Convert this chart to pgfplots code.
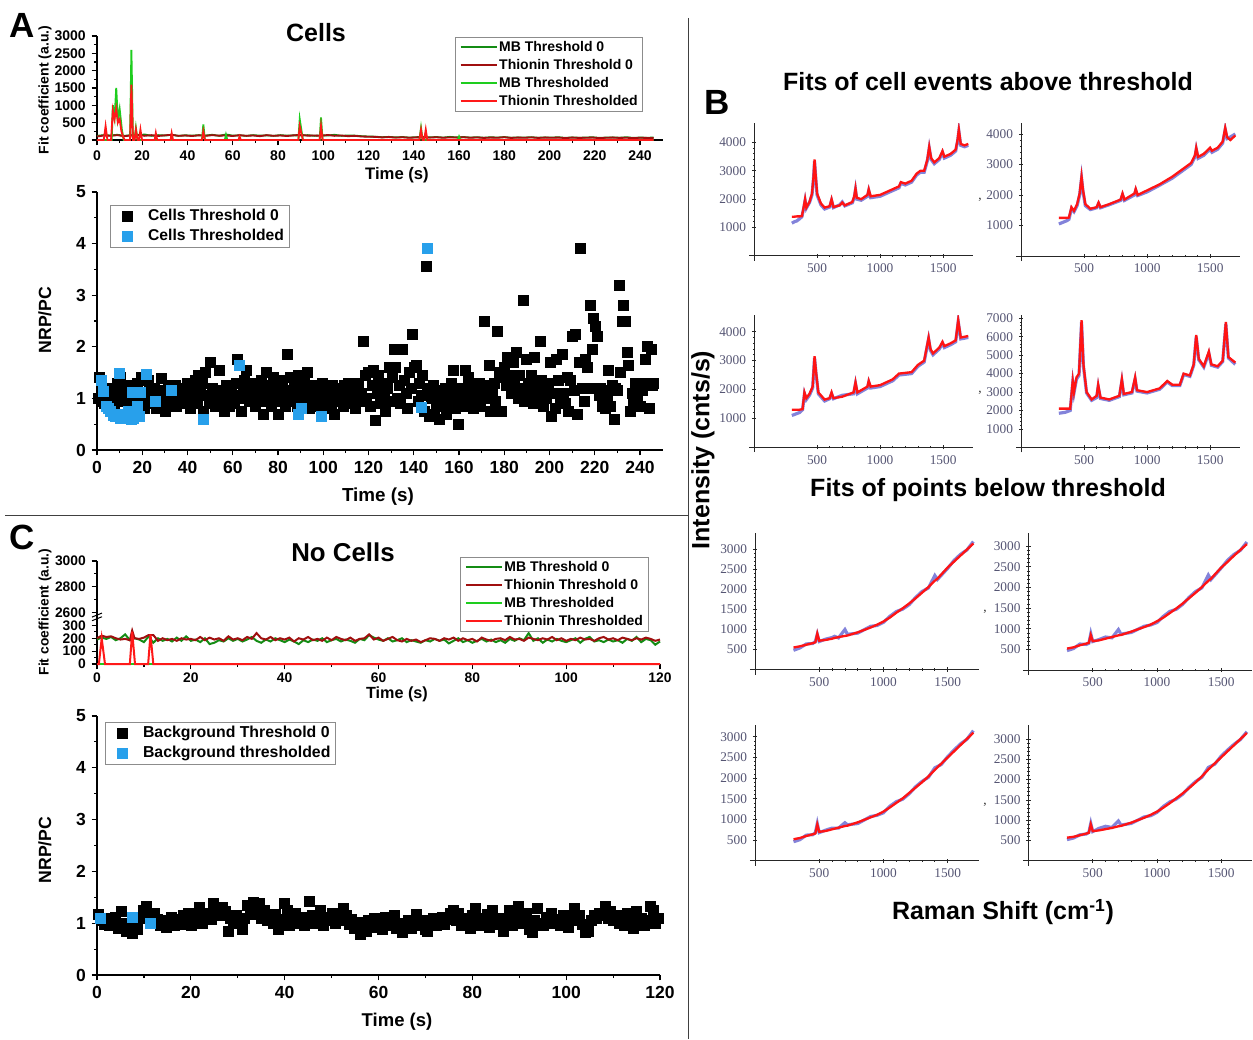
\documentclass[border=0pt]{standalone}
\usepackage{fontspec}
\setmainfont{Liberation Sans}
\newfontfamily\ser{Liberation Serif}
\usepackage{pgfplots}
\pgfplotsset{compat=1.18}
\usepackage{pgfplotstable}

\definecolor{dkgreen}{RGB}{20,140,20}
\definecolor{brgreen}{RGB}{30,205,30}
\definecolor{dkred}{RGB}{160,15,15}
\definecolor{brred}{RGB}{255,25,25}
\definecolor{cellblue}{RGB}{40,160,235}
\definecolor{mmagray}{RGB}{85,85,115}
\definecolor{mmablue}{RGB}{90,90,205}
\definecolor{mmared}{RGB}{255,20,20}

\newcommand\fsz[1]{\fontsize{#1}{#1}\selectfont}

\pgfplotsset{
  orig/.style={
    scale only axis, anchor=south west,
    axis x line*=bottom, axis y line*=left,
    axis line style={line width=0.9pt},
    tick style={black, line width=0.7pt},
    tick align=outside,
    major tick length=3.2pt, minor tick length=1.8pt,
    /pgf/number format/assume math mode=true,
    /pgf/number format/1000 sep={},
    legend cell align=left,
    legend style={draw=black!45, line width=0.6pt, fill=white,
      inner xsep=2.5pt, inner ysep=0.5pt, anchor=north west},
  },
  sqleg/.style={legend image code/.code={%
    \path[draw=none, fill=none] (0pt,-0.5pt) rectangle (19.5pt,0.5pt);
    \draw[##1] plot coordinates {(7.5pt,0pt)};}},
  mma/.style={
    scale only axis, anchor=south west,
    axis lines=middle,
    axis line style={-, line width=0.55pt, black!85},
    tick style={black!85, line width=0.45pt},
    tick align=center,
    major tick length=2.6pt, minor tick length=1.4pt,
    xmin=-40, xmax=1740, xtick={500,1000,1500},
    minor x tick num=4, minor y tick num=4,
    ticklabel style={font=\ser\fsz{8}, text=mmagray},
    /pgf/number format/assume math mode=true,
    /pgf/number format/1000 sep={},
  },
  dat/.style={mmablue, line width=1.9pt, opacity=0.75},
  fit/.style={mmared, line width=1.4pt},
}

% spectra: x, fit, data
\pgfplotstableread{
x f d
300 1380 1150
320 1380 1200
340 1390 1230
360 1390 1300
380 1400 1380
395 1750 1700
405 2000 1950
415 1700 1680
440 1900 1880
460 2200 2150
472 2800 2750
480 3400 3350
488 2900 2850
500 2200 2150
530 1850 1800
560 1700 1650
600 1750 1720
615 2000 1950
630 1720 1700
680 1780 1800
700 1880 1900
720 1780 1760
780 1900 1870
795 2100 2050
805 2380 2330
815 2050 2000
850 2000 1960
900 2150 2100
910 2350 2300
925 2100 2050
1000 2150 2100
1050 2250 2200
1100 2350 2300
1150 2450 2400
1165 2600 2560
1200 2550 2500
1250 2650 2600
1290 2900 2850
1320 3000 2950
1350 3000 2950
1375 3400 3350
1390 3850 3800
1405 3450 3400
1430 3300 3250
1470 3450 3400
1495 3700 3650
1510 3500 3450
1560 3600 3550
1600 3750 3700
1615 4100 4050
1625 4450 4400
1640 3950 3900
1670 3900 3850
1700 3950 3900
}\tBa

\pgfplotstableread{
x f d
300 1250 1050
330 1250 1100
360 1250 1150
380 1260 1200
400 1600 1550
420 1480 1450
445 1700 1650
465 2050 2000
480 2600 2550
492 2150 2100
510 1700 1650
550 1550 1520
600 1600 1580
615 1750 1720
630 1600 1580
700 1700 1680
790 1850 1820
805 2050 2000
820 1850 1820
900 2050 2000
910 2200 2150
925 2000 1980
1000 2150 2100
1100 2350 2320
1200 2600 2550
1300 2900 2850
1350 3050 3000
1380 3300 3250
1390 3550 3500
1405 3250 3200
1450 3350 3300
1500 3550 3500
1515 3450 3400
1560 3550 3500
1600 3750 3700
1620 4200 4150
1635 3900 3850
1660 3800 3900
1700 3950 4000
}\tBb

\pgfplotstableread{
x f d
300 1300 1100
330 1300 1150
360 1300 1200
385 1320 1300
400 1900 1850
415 1700 1650
440 1850 1800
465 2100 2050
480 3150 3100
492 2600 2550
510 1900 1850
560 1650 1600
600 1700 1680
615 1900 1850
630 1700 1680
700 1750 1800
790 1900 1850
805 2250 2200
820 1900 1850
900 2100 2050
910 2300 2250
925 2100 2050
1000 2150 2100
1100 2350 2300
1150 2550 2500
1250 2600 2550
1300 2850 2800
1350 3000 2950
1385 3800 3750
1400 3400 3350
1420 3250 3200
1470 3450 3400
1495 3650 3600
1510 3500 3450
1560 3600 3550
1600 3700 3650
1620 4400 4350
1640 3800 3750
1700 3850 3800
}\tBc

\pgfplotstableread{
x f d
300 2100 1850
350 2100 1900
390 2100 2000
410 3600 3500
420 3000 2950
440 3800 3700
460 4000 3900
480 6900 6800
495 4500 4400
520 3000 2950
560 2600 2550
600 2800 2700
612 3400 3300
630 2700 2650
700 2600 2550
780 2800 2750
800 3700 3600
815 2900 2850
880 3000 2950
905 3800 3700
920 3100 3050
1000 3000 2950
1100 3200 3150
1160 3600 3550
1200 3400 3350
1260 3400 3350
1290 4000 3950
1340 3900 3850
1370 4500 4450
1390 6100 6000
1410 4800 4750
1450 4400 4350
1490 5200 5100
1510 4500 4450
1560 4400 4350
1600 4700 4650
1625 6800 6700
1645 4900 4850
1700 4600 4500
}\tBd

\pgfplotstableread{
x f d
300 550 480
350 580 540
400 620 640
450 660 650
470 680 700
485 900 880
500 720 700
550 740 760
600 770 800
620 790 830
650 810 790
700 840 1000
720 850 880
800 930 910
900 1050 1080
950 1120 1100
1000 1200 1180
1050 1300 1330
1100 1420 1450
1150 1530 1510
1200 1650 1620
1250 1780 1800
1300 1920 1950
1350 2060 2040
1400 2220 2350
1420 2270 2250
1500 2550 2530
1550 2700 2730
1600 2850 2880
1650 3000 2990
1700 3150 3200
}\tBe

\pgfplotstableread{
x f d
300 520 470
350 550 520
400 600 630
450 640 620
470 660 650
485 850 880
500 700 690
550 720 740
600 760 800
650 800 780
700 840 980
720 850 870
800 930 910
900 1040 1060
950 1100 1090
1000 1180 1150
1050 1270 1300
1100 1380 1420
1150 1490 1470
1200 1610 1590
1250 1740 1760
1300 1870 1900
1350 2010 1990
1400 2160 2300
1420 2210 2190
1500 2480 2470
1550 2620 2660
1600 2770 2800
1650 2910 2900
1700 3050 3100
}\tBf

\pgfplotstableread{
x f d
300 520 460
350 550 510
400 600 620
450 640 630
470 660 680
485 880 900
500 700 680
550 720 740
600 760 790
650 800 790
700 840 920
720 850 870
800 930 900
900 1050 1070
950 1110 1100
1000 1190 1160
1050 1290 1320
1100 1400 1430
1150 1510 1490
1200 1640 1620
1250 1770 1790
1300 1900 1920
1350 2040 2020
1400 2200 2250
1450 2350 2330
1500 2500 2520
1550 2650 2680
1600 2800 2830
1650 2950 2940
1700 3100 3150
}\tBg

\pgfplotstableread{
x f d
300 570 520
350 590 560
400 630 640
450 670 660
470 690 700
485 900 920
500 730 720
550 750 800
600 780 850
650 810 820
700 850 980
720 860 880
800 940 920
900 1060 1080
950 1130 1110
1000 1210 1190
1050 1310 1340
1100 1420 1450
1150 1540 1520
1200 1660 1640
1250 1790 1810
1300 1930 1950
1350 2080 2060
1400 2250 2300
1450 2400 2380
1500 2550 2580
1550 2700 2730
1600 2850 2870
1650 3000 2990
1700 3150 3180
}\tBh

\begin{document}
\begin{tikzpicture}
\useasboundingbox (0,0) rectangle (751.8pt,-623.4pt);

% ---------- A: fit coefficients ----------
\begin{axis}[orig, at={(58.2pt,-84pt)}, width=339.4pt, height=62.4pt,
  xmin=0, xmax=250, ymin=0, ymax=3000,
  xtick={0,20,...,240}, minor x tick num=1,
  ytick={0,500,...,3000}, minor y tick num=1,
  ticklabel style={font=\bfseries\fsz{8.4}},
  legend style={at={(0.633,0.99)}, font=\bfseries\fsz{8.4},
    nodes={inner sep=0.6pt, text height=7.2pt, text depth=2.4pt}},
  legend image code/.code={\draw[#1] (0pt,0pt)--(22pt,0pt);},
  no markers]
\addplot[dkgreen, line width=1.1pt] coordinates {(0,120) (3,140) (6,130) (9,150) (12,120) (15,140) (18,130) (21,160) (24,120) (27,140) (30,130) (33,150) (36,120) (39,135) (42,125) (45,140) (48,130) (51,150) (54,120) (57,160) (60,125) (63,135) (66,120) (69,140) (72,125) (75,135) (78,120) (81,140) (84,125) (87,135) (90,130) (93,140) (96,120) (99,135) (102,130) (105,150) (108,120) (111,130) (114,125) (117,110) (120,100) (123,95) (126,80) (129,90) (132,75) (135,85) (138,70) (141,80) (144,90) (147,75) (150,85) (153,70) (156,90) (159,75) (162,85) (165,70) (168,80) (171,65) (174,80) (177,70) (180,85) (183,65) (186,75) (189,70) (192,80) (195,65) (198,75) (201,70) (204,80) (207,60) (210,75) (213,65) (216,70) (219,80) (222,60) (225,70) (228,75) (231,65) (234,80) (237,60) (240,70) (243,65) (246,70)};
\addlegendentry{MB Threshold 0}
\addplot[dkred, line width=1.1pt] coordinates {(0,100) (3,130) (6,120) (9,140) (12,110) (15,130) (18,150) (21,120) (24,140) (27,115) (30,135) (33,150) (36,120) (39,130) (42,115) (45,135) (48,120) (51,140) (54,125) (57,130) (60,115) (63,140) (66,120) (69,130) (72,110) (75,140) (78,120) (81,130) (84,115) (87,135) (90,150) (93,125) (96,130) (99,120) (102,145) (105,120) (108,130) (111,110) (114,120) (117,100) (120,95) (123,90) (126,75) (129,85) (132,70) (135,80) (138,65) (141,75) (144,80) (147,70) (150,80) (153,65) (156,75) (159,70) (162,80) (165,65) (168,75) (171,60) (174,70) (177,65) (180,80) (183,60) (186,70) (189,65) (192,75) (195,60) (198,70) (201,65) (204,70) (207,55) (210,70) (213,60) (216,65) (219,70) (222,55) (225,65) (228,70) (231,60) (234,65) (237,55) (240,65) (243,60) (246,60)};
\addlegendentry{Thionin Threshold 0}
\addplot[brgreen, line width=1.1pt] coordinates {(0,0) (6.5,0) (7,1000) (7.8,650) (8.5,1500) (9.2,600) (10,900) (11,300) (11.8,0) (14.6,0) (15.2,2600) (15.9,0) (16.6,0) (17.2,350) (17.9,0) (46.4,0) (47,450) (47.7,0) (56.5,0) (57,150) (57.6,0) (89,0) (89.6,600) (90.3,300) (91,0) (98.4,0) (99,650) (99.7,0) (142.5,0) (143.2,350) (143.9,0) (159.4,0) (160,100) (160.6,0) (246,0)};
\addlegendentry{MB Thresholded}
\addplot[brred, line width=1.1pt] coordinates {(0,0) (3,0) (3.8,400) (4.6,0) (6.2,0) (7,850) (7.7,600) (8.5,900) (9.2,500) (10,600) (10.8,250) (11.5,100) (12.2,0) (14.6,0) (15.2,1600) (15.9,0) (16.6,0) (17.2,300) (17.9,0) (18.6,0) (19.2,300) (19.9,0) (25.5,0) (26,200) (26.6,0) (32.5,0) (33,200) (33.6,0) (46.4,0) (47,250) (47.7,0) (62.5,0) (63,100) (63.6,0) (89,0) (89.6,400) (90.3,200) (91,0) (98.4,0) (99,400) (99.7,0) (142.5,0) (143.2,300) (143.9,0) (144.6,0) (145.3,300) (146,0) (246,0)};
\addlegendentry{Thionin Thresholded}
\end{axis}

% ---------- A: NRP/PC ----------
\begin{axis}[orig, sqleg, at={(58.2pt,-270pt)}, width=339.4pt, height=154.8pt,
  xmin=0, xmax=250, ymin=0, ymax=5,
  xtick={0,20,...,240}, minor x tick num=1,
  ytick={0,1,...,5}, minor y tick num=1,
  ticklabel style={font=\bfseries\fsz{10.5}},
  legend style={at={(0.023,0.95)}, font=\bfseries\fsz{9.4},
    nodes={inner sep=0.6pt, text height=8pt, text depth=2.8pt}}]
\addplot[only marks, mark=square*, mark size=3pt, black] coordinates {(0.5,1.00) (1.2,1.40) (1.8,0.95) (2.5,1.10) (3.2,0.90) (4.0,1.20) (4.6,1.05) (5.3,0.95) (6.0,1.15) (6.8,1.00) (7.5,0.90) (8.2,1.10) (9.0,1.30) (9.8,1.05) (10.4,1.40) (11.2,1.00) (12.0,1.20) (12.7,0.95) (13.5,1.10) (14.2,1.25) (15.0,1.00) (15.8,1.15) (16.5,0.85) (17.2,1.05) (18.0,1.30) (18.8,0.95) (19.5,1.40) (20.2,1.10) (21.0,0.80) (21.8,1.00) (22.5,1.35) (23.2,1.15) (24.0,0.90) (24.8,1.05) (25.5,1.20) (26.2,0.80) (27.0,1.00) (27.8,1.15) (28.5,1.38) (29.2,0.95) (30.0,0.75) (30.8,1.05) (31.5,1.25) (32.2,0.90) (33.0,1.10) (33.8,1.00) (34.5,1.25) (35.2,0.85) (36.0,1.15) (36.8,1.05) (37.5,0.90) (38.2,1.20) (39.0,1.00) (39.8,1.30) (40.5,0.95) (41.2,0.80) (42.0,1.15) (42.8,1.00) (43.5,1.35) (44.2,0.90) (45.0,1.45) (45.8,1.10) (46.5,1.30) (47.2,0.75) (48.0,1.50) (48.8,1.05) (49.5,0.90) (50.2,1.70) (51.0,1.20) (51.8,1.00) (52.5,0.85) (53.2,1.15) (54.0,1.55) (54.8,0.95) (55.5,1.10) (56.2,0.75) (57.0,1.25) (57.8,1.00) (58.5,0.85) (59.2,1.15) (60.0,1.05) (60.8,0.90) (61.5,1.30) (62.2,1.75) (63.0,1.00) (63.8,0.75) (64.5,1.20) (65.2,1.35) (66.0,1.55) (66.8,1.10) (67.5,0.95) (68.2,1.30) (69.0,1.15) (69.8,0.85) (70.5,1.25) (71.2,1.05) (72.0,0.95) (72.8,1.35) (73.5,0.70) (74.2,1.15) (75.0,1.50) (75.8,1.00) (76.5,1.25) (77.2,0.85) (78.0,1.40) (78.8,1.10) (79.5,0.95) (80.2,0.70) (81.0,1.20) (81.8,1.35) (82.5,1.00) (83.2,0.85) (84.0,1.85) (84.8,1.15) (85.5,1.40) (86.2,0.95) (87.0,1.25) (87.8,1.05) (88.5,0.85) (89.2,1.45) (90.0,1.10) (90.8,0.90) (91.5,1.30) (92.2,1.05) (93.0,1.50) (93.8,0.80) (94.5,1.15) (95.2,0.95) (96.0,1.25) (96.8,0.85) (97.5,1.05) (98.2,1.20) (99.0,0.95) (99.8,1.30) (100.5,1.10) (101.2,0.80) (102.0,1.00) (102.8,1.15) (103.5,0.90) (104.2,1.25) (105.0,0.70) (105.8,1.05) (106.5,1.20) (107.2,0.95) (108.0,1.10) (108.8,0.85) (109.5,1.25) (110.2,1.00) (111.0,1.30) (111.8,0.90) (112.5,1.15) (113.2,1.05) (114.0,0.80) (114.8,1.20) (115.5,1.30) (116.2,0.95) (117.0,1.10) (117.8,2.10) (118.5,1.45) (119.2,1.00) (120.0,1.50) (120.8,0.85) (121.5,1.25) (122.2,1.55) (123.0,0.58) (123.8,1.10) (124.5,1.45) (125.2,0.90) (126.0,1.30) (126.8,1.05) (127.5,0.75) (128.2,1.20) (129.0,1.60) (129.8,0.95) (130.5,1.40) (131.2,1.95) (132.0,1.60) (132.8,1.00) (133.5,1.25) (134.2,0.90) (135.0,1.95) (135.8,1.35) (136.5,1.10) (137.2,0.80) (138.0,1.50) (138.8,1.20) (139.5,2.25) (140.2,1.60) (141.0,1.65) (141.8,0.95) (142.5,1.30) (143.2,1.05) (144.0,1.45) (144.8,0.75) (145.5,3.55) (146.2,1.20) (147.0,0.65) (147.8,1.00) (148.5,1.25) (149.2,0.70) (150.0,0.90) (150.8,1.15) (151.5,0.60) (152.2,1.05) (153.0,0.85) (153.8,1.20) (154.5,0.70) (155.2,1.00) (156.0,0.90) (156.8,1.30) (157.5,1.55) (158.2,0.80) (159.0,1.10) (159.8,0.50) (160.5,0.95) (161.2,1.20) (162.0,0.85) (162.8,1.55) (163.5,1.05) (164.2,1.40) (165.0,0.90) (165.8,1.25) (166.5,0.80) (167.2,1.10) (168.0,1.00) (168.8,1.30) (169.5,0.85) (170.2,1.15) (171.0,2.50) (171.8,1.00) (172.5,1.25) (173.2,1.65) (174.0,0.75) (174.8,1.10) (175.5,1.30) (176.2,0.95) (177.0,2.30) (177.8,1.50) (178.5,0.75) (179.2,1.40) (180.0,1.60) (180.8,1.25) (181.5,1.80) (182.2,1.45) (183.0,1.10) (183.8,1.70) (184.5,1.30) (185.2,1.90) (186.0,1.00) (186.8,1.45) (187.5,1.20) (188.2,2.90) (189.0,0.95) (189.8,1.75) (190.5,1.30) (191.2,1.10) (192.0,1.45) (192.8,0.90) (193.5,1.80) (194.2,1.25) (195.0,1.05) (195.8,2.10) (196.5,1.35) (197.2,0.85) (198.0,1.20) (198.8,1.00) (199.5,1.30) (200.2,1.70) (201.0,0.65) (201.8,1.10) (202.5,0.80) (203.2,1.75) (204.0,1.35) (204.8,0.95) (205.5,1.85) (206.2,1.10) (207.0,0.90) (207.8,1.40) (208.5,0.75) (209.2,1.35) (210.0,2.20) (210.8,1.15) (211.5,2.25) (212.2,0.70) (213.0,1.70) (213.8,3.90) (214.5,1.20) (215.2,0.95) (216.0,1.75) (216.8,1.60) (217.5,1.20) (218.2,2.80) (218.8,1.95) (219.5,2.55) (220.2,2.40) (221.0,2.20) (221.8,1.05) (222.5,1.20) (223.2,0.85) (224.0,1.15) (224.8,0.80) (225.5,1.05) (226.2,1.55) (227.0,0.85) (227.8,1.25) (228.5,0.60) (229.2,1.20) (230.0,1.15) (230.8,3.20) (231.5,1.50) (232.2,2.50) (232.8,2.80) (233.5,2.50) (234.2,1.90) (235.0,1.65) (235.8,0.75) (236.5,1.10) (237.2,0.90) (238.0,1.30) (238.8,1.00) (239.5,1.25) (240.2,0.85) (241.0,1.15) (241.8,1.30) (242.5,1.75) (243.2,2.00) (244.0,0.80) (244.8,1.95) (245.5,1.25) (246.0,1.30)};
\addlegendentry{Cells Threshold 0}
\addplot[only marks, mark=square*, mark size=3pt, cellblue] coordinates {(2,1.35) (3,1.13) (4,0.85) (5,0.80) (6,0.75) (7,0.68) (8,0.65) (9,0.70) (10,1.48) (10.5,0.62) (11,0.62) (12,0.65) (13,0.70) (14,0.75) (15,0.60) (15.5,1.12) (16,0.62) (17,0.72) (18,0.85) (18.5,0.65) (19,1.12) (22,1.47) (26,0.95) (33,1.15) (47,0.60) (63,1.65) (89,0.70) (90.5,0.80) (99,0.65) (143.5,0.82) (146,3.90)};
\addlegendentry{Cells Thresholded}
\end{axis}

% ---------- C: fit coefficients (broken axis) ----------
\begin{axis}[orig, at={(58.2pt,-398.4pt)}, width=337.8pt, height=61.8pt,
  xmin=0, xmax=120, ymin=0, ymax=800,
  xtick={0,20,...,120}, minor x tick num=1,
  ytick={0,100,200,300,400,600,800},
  yticklabels={0,100,200,300,2600,2800,3000},
  minor ytick={50,150,250,500,700},
  ticklabel style={font=\bfseries\fsz{8.3}},
  xticklabel style={yshift=1.5pt},
  legend style={at={(0.645,1.04)}, font=\bfseries\fsz{8.4},
    nodes={inner sep=0.6pt, text height=7.2pt, text depth=2.4pt}},
  legend image code/.code={\draw[#1] (0pt,0pt)--(22pt,0pt);},
  no markers, clip=false]
\addplot[dkgreen, line width=1.2pt] coordinates {(0,190) (1,205) (2,195) (3,210) (4,185) (5,200) (6,230) (7,185) (8,200) (9,190) (10,170) (11,215) (12,165) (13,200) (14,180) (15,195) (16,175) (17,205) (18,180) (19,215) (20,180) (21,190) (22,170) (23,200) (24,155) (25,165) (26,185) (27,175) (28,200) (29,180) (30,195) (31,175) (32,190) (33,210) (34,180) (35,165) (36,190) (37,175) (38,200) (39,185) (40,170) (41,190) (42,175) (43,155) (44,185) (45,170) (46,190) (47,180) (48,200) (49,170) (50,185) (51,195) (52,175) (53,190) (54,180) (55,165) (56,195) (57,185) (58,225) (59,205) (60,190) (61,180) (62,200) (63,175) (64,185) (65,200) (66,170) (67,185) (68,175) (69,165) (70,185) (71,175) (72,195) (73,180) (74,190) (75,160) (76,180) (77,200) (78,170) (79,185) (80,165) (81,180) (82,195) (83,175) (84,190) (85,170) (86,185) (87,165) (88,195) (89,180) (90,200) (91,185) (92,240) (93,180) (94,200) (95,165) (96,190) (97,175) (98,195) (99,180) (100,170) (101,185) (102,200) (103,165) (104,195) (105,210) (106,175) (107,185) (108,170) (109,190) (110,175) (111,185) (112,165) (113,195) (114,180) (115,210) (116,170) (117,195) (118,185) (119,150) (120,175)};
\addlegendentry{MB Threshold 0}
\addplot[dkred, line width=1.2pt] coordinates {(0,200) (1,220) (2,210) (3,215) (4,200) (5,190) (6,195) (7,185) (7.5,260) (8,200) (9,195) (10,205) (11,225) (12,225) (13,180) (14,200) (15,185) (16,195) (17,180) (18,200) (19,190) (20,195) (21,185) (22,210) (23,185) (24,205) (25,190) (26,200) (27,180) (28,215) (29,190) (30,200) (31,185) (32,210) (33,195) (34,240) (35,200) (36,190) (37,210) (38,185) (39,200) (40,190) (41,205) (42,175) (43,200) (44,190) (45,210) (46,185) (47,195) (48,180) (49,205) (50,185) (51,210) (52,195) (53,185) (54,205) (55,180) (56,195) (57,200) (58,230) (59,190) (60,205) (61,180) (62,195) (63,210) (64,185) (65,175) (66,195) (67,180) (68,190) (69,170) (70,185) (71,200) (72,195) (73,180) (74,200) (75,190) (76,205) (77,180) (78,200) (79,185) (80,195) (81,175) (82,205) (83,190) (84,180) (85,195) (86,200) (87,185) (88,210) (89,190) (90,195) (91,180) (92,205) (93,195) (94,185) (95,200) (96,190) (97,210) (98,185) (99,200) (100,180) (101,195) (102,185) (103,205) (104,190) (105,195) (106,180) (107,200) (108,210) (109,190) (110,200) (111,185) (112,205) (113,195) (114,185) (115,200) (116,190) (117,205) (118,195) (119,180) (120,190)};
\addlegendentry{Thionin Threshold 0}
\addplot[brgreen, line width=1.2pt] coordinates {(0,0) (120,0)};
\addlegendentry{MB Thresholded}
\addplot[brred, line width=1.2pt] coordinates {(0,0) (0.4,0) (1,200) (1.7,0) (7.0,0) (7.5,250) (8.1,0) (10.9,0) (11.4,230) (12.0,0) (120,0)};
\addlegendentry{Thionin Thresholded}
\draw[line width=0.6pt] (axis cs:0,380) ++(-3pt,-1.2pt) -- ++(6pt,2.4pt);
\draw[line width=0.6pt] (axis cs:0,380) ++(-3pt,-3.4pt) -- ++(6pt,2.4pt);
\end{axis}

% ---------- C: NRP/PC ----------
\begin{axis}[orig, sqleg, at={(58.2pt,-585pt)}, width=337.8pt, height=155.4pt,
  xmin=0, xmax=120, ymin=0, ymax=5,
  xtick={0,20,...,120}, minor x tick num=1,
  ytick={0,1,...,5}, minor y tick num=1,
  ticklabel style={font=\bfseries\fsz{10.5}},
  legend style={at={(0.014,0.977)}, font=\bfseries\fsz{9.5},
    nodes={inner sep=0.6pt, text height=8pt, text depth=2.8pt}}]
\addplot[only marks, mark=square*, mark size=3pt, black] coordinates {(0.3,1.18) (0.9,1.05) (1.5,0.98) (2.1,1.10) (2.7,0.95) (3.3,1.05) (3.9,1.12) (4.5,0.90) (5.1,1.22) (5.7,1.00) (6.3,0.85) (6.9,0.95) (7.5,0.80) (8.1,1.02) (8.7,0.88) (9.3,1.10) (9.9,1.25) (10.5,1.33) (11.1,1.18) (11.7,1.05) (12.3,1.20) (12.9,1.08) (13.5,0.95) (14.1,1.00) (14.7,0.92) (15.3,1.05) (15.9,1.12) (16.5,0.95) (17.1,1.08) (17.7,0.98) (18.3,1.15) (18.9,1.02) (19.5,1.20) (20.1,0.95) (20.7,1.10) (21.3,1.05) (21.9,1.30) (22.5,1.00) (23.1,1.12) (23.7,1.20) (24.3,1.08) (24.9,1.38) (25.5,1.25) (26.1,1.15) (26.7,1.30) (27.3,1.22) (27.9,0.85) (28.5,1.10) (29.1,1.00) (29.7,1.15) (30.3,1.05) (30.9,0.88) (31.5,1.10) (32.1,1.35) (32.7,1.18) (33.3,1.40) (33.9,1.30) (34.5,1.38) (35.1,1.10) (35.7,1.25) (36.3,1.05) (36.9,1.15) (37.5,1.00) (38.1,1.18) (38.7,0.88) (39.3,1.08) (39.9,1.38) (40.5,1.25) (41.1,0.95) (41.7,1.10) (42.3,1.20) (42.9,1.00) (43.5,1.12) (44.1,0.95) (44.7,1.05) (45.3,1.42) (45.9,1.15) (46.5,1.00) (47.1,1.10) (47.7,1.25) (48.3,0.95) (48.9,1.12) (49.5,1.05) (50.1,1.20) (50.7,1.00) (51.3,1.10) (51.9,1.05) (52.5,1.28) (53.1,1.15) (53.7,0.98) (54.3,1.08) (54.9,0.90) (55.5,1.02) (56.1,0.78) (56.7,0.95) (57.3,0.85) (57.9,1.05) (58.5,0.92) (59.1,1.10) (59.7,0.98) (60.3,1.05) (60.9,0.88) (61.5,1.12) (62.1,0.95) (62.7,1.05) (63.3,1.15) (63.9,0.90) (64.5,1.00) (65.1,0.82) (65.7,0.95) (66.3,1.05) (66.9,0.90) (67.5,1.00) (68.1,1.18) (68.7,0.95) (69.3,1.05) (69.9,0.88) (70.5,0.85) (71.1,1.00) (71.7,1.10) (72.3,0.95) (72.9,1.05) (73.5,1.12) (74.1,0.98) (74.7,1.08) (75.3,1.20) (75.9,1.25) (76.5,1.05) (77.1,1.20) (77.7,0.95) (78.3,1.10) (78.9,1.02) (79.5,0.90) (80.1,1.15) (80.7,1.28) (81.3,0.95) (81.9,1.10) (82.5,1.00) (83.1,1.18) (83.7,0.92) (84.3,1.25) (84.9,1.05) (85.5,0.98) (86.1,1.10) (86.7,0.85) (87.3,1.05) (87.9,1.25) (88.5,0.95) (89.1,1.15) (89.7,1.32) (90.3,1.10) (90.9,1.00) (91.5,1.20) (92.1,0.88) (92.7,0.82) (93.3,1.05) (93.9,1.28) (94.5,1.00) (95.1,0.95) (95.7,1.12) (96.3,1.05) (96.9,1.20) (97.5,1.00) (98.1,1.08) (98.7,0.95) (99.3,1.15) (99.9,1.02) (100.5,0.92) (101.1,1.10) (101.7,1.28) (102.3,1.05) (102.9,1.15) (103.5,0.98) (104.1,0.82) (104.7,0.85) (105.3,1.05) (105.9,1.15) (106.5,1.10) (107.1,1.20) (107.7,1.15) (108.3,1.32) (108.9,1.10) (109.5,1.22) (110.1,1.05) (110.7,1.15) (111.3,1.00) (111.9,1.08) (112.5,0.95) (113.1,1.20) (113.7,1.05) (114.3,0.90) (114.9,1.22) (115.5,1.00) (116.1,1.10) (116.7,0.95) (117.3,1.05) (117.9,1.32) (118.5,1.25) (119.1,1.00) (119.7,1.10)};
\addlegendentry{Background Threshold 0}
\addplot[only marks, mark=square*, mark size=3pt, cellblue] coordinates {(0.8,1.10) (7.5,1.12) (11.3,1.00)};
\addlegendentry{Background thresholded}
\end{axis}

% ---------- B: spectra ----------
\begin{axis}[mma, at={(449.4pt,-156.5pt)}, width=134.6pt, height=82.7pt,
  ymin=-180, ymax=4690, ytick={1000,2000,3000,4000}]
\addplot[dat] table[x=x,y=d] {\tBa};
\addplot[fit] table[x=x,y=f] {\tBa};
\end{axis}
\begin{axis}[mma, at={(609.6pt,-156.7pt)}, width=134.6pt, height=82.9pt,
  ymin=-170, ymax=4360, ytick={1000,2000,3000,4000}]
\addplot[dat] table[x=x,y=d] {\tBb};
\addplot[fit] table[x=x,y=f] {\tBb};
\end{axis}
\begin{axis}[mma, at={(449.4pt,-271.3pt)}, width=134.6pt, height=82.3pt,
  ymin=-170, ymax=4578, ytick={1000,2000,3000,4000}]
\addplot[dat] table[x=x,y=d] {\tBc};
\addplot[fit] table[x=x,y=f] {\tBc};
\end{axis}
\begin{axis}[mma, at={(609.6pt,-271.4pt)}, width=134.6pt, height=82.4pt,
  ymin=-270, ymax=7180, ytick={1000,2000,...,7000}]
\addplot[dat] table[x=x,y=d] {\tBd};
\addplot[fit] table[x=x,y=f] {\tBd};
\end{axis}
\begin{axis}[mma, at={(449.9pt,-404.7pt)}, width=137.2pt, height=84.7pt,
  ymin=-125, ymax=3405, ytick={500,1000,...,3000}]
\addplot[dat] table[x=x,y=d] {\tBe};
\addplot[fit] table[x=x,y=f] {\tBe};
\end{axis}
\begin{axis}[mma, at={(614pt,-405pt)}, width=137.2pt, height=85pt,
  ymin=-120, ymax=3310, ytick={500,1000,...,3000}]
\addplot[dat] table[x=x,y=d] {\tBf};
\addplot[fit] table[x=x,y=f] {\tBf};
\end{axis}
\begin{axis}[mma, at={(449.9pt,-519.4pt)}, width=137.2pt, height=84.4pt,
  ymin=-120, ymax=3286, ytick={500,1000,...,3000}]
\addplot[dat] table[x=x,y=d] {\tBg};
\addplot[fit] table[x=x,y=f] {\tBg};
\end{axis}
\begin{axis}[mma, at={(614pt,-519.5pt)}, width=137.2pt, height=84.5pt,
  ymin=-125, ymax=3346, ytick={500,1000,...,3000}]
\addplot[dat] table[x=x,y=d] {\tBh};
\addplot[fit] table[x=x,y=f] {\tBh};
\end{axis}

% ---------- texts ----------
\node[font=\bfseries\fsz{21}] at (13.2pt,-15pt) {A};
\node[font=\bfseries\fsz{15}] at (189.6pt,-19.8pt) {Cells};
\node[rotate=90, font=\bfseries\fsz{8.4}] at (27pt,-54pt) {Fit coefficient (a.u.)};
\node[font=\bfseries\fsz{10}] at (238.2pt,-105pt) {Time (s)};
\node[rotate=90, font=\bfseries\fsz{10.6}] at (27pt,-192pt) {NRP/PC};
\node[font=\bfseries\fsz{11.3}] at (226.8pt,-298.2pt) {Time (s)};

\node[font=\bfseries\fsz{21}] at (13.2pt,-322.2pt) {C};
\node[font=\bfseries\fsz{15.5}] at (205.8pt,-331.2pt) {No Cells};
\node[rotate=90, font=\bfseries\fsz{8.3}] at (27pt,-367.2pt) {Fit coefficient (a.u.)};
\node[font=\bfseries\fsz{9.7}] at (238.2pt,-416.8pt) {Time (s)};
\node[rotate=90, font=\bfseries\fsz{10.6}] at (27pt,-510pt) {NRP/PC};
\node[font=\bfseries\fsz{11.1}] at (238.2pt,-613.2pt) {Time (s)};

\node[font=\bfseries\fsz{21}] at (430.2pt,-61.2pt) {B};
\node[font=\bfseries\fsz{15}] at (592.8pt,-49.2pt) {Fits of cell events above threshold};
\node[font=\bfseries\fsz{15}] at (592.8pt,-294pt) {Fits of points below threshold};
\node[rotate=90, font=\bfseries\fsz{15}] at (421.8pt,-270pt) {Intensity (cnts/s)};
\node[font=\bfseries\fsz{15}] at (601.8pt,-547.2pt) {Raman Shift (cm\textsuperscript{-1})};
\foreach \p in {(588pt,-120pt),(588pt,-235.8pt),(591pt,-367.2pt),(591pt,-483pt)}
  \node[font=\ser\fsz{8}, text=black!80] at \p {,};

% ---------- dividers ----------
\draw[black!75, line width=0.6pt] (412.8pt,-10.8pt) -- (412.8pt,-623.4pt);
\draw[black!75, line width=0.6pt] (3pt,-309pt) -- (412.8pt,-309pt);
\end{tikzpicture}
\end{document}
